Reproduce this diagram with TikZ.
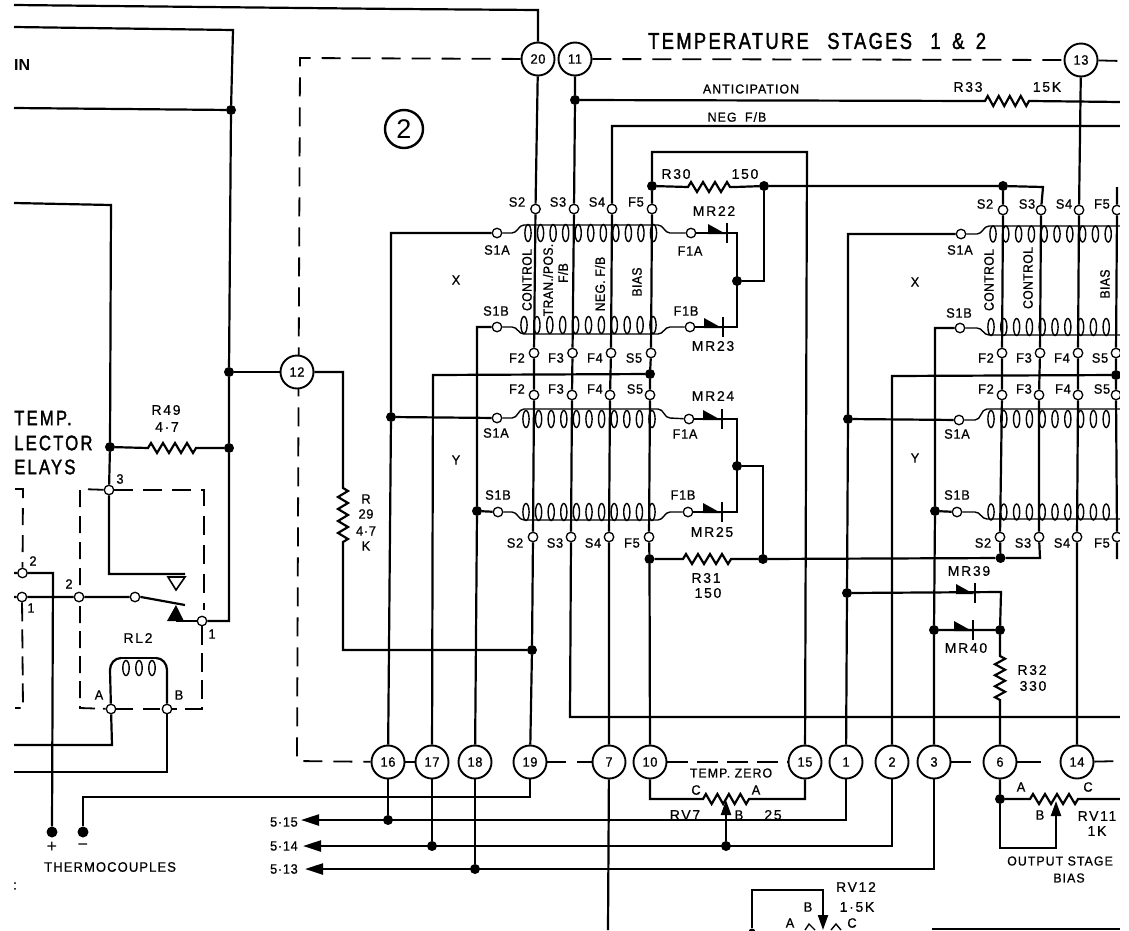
\documentclass[tikz,border=0pt]{standalone}
\usepackage{fontspec}
\setmainfont{Liberation Sans}
\newfontfamily\wf[LetterSpace=12,FakeBold=0.5]{Liberation Sans}
\newfontfamily\cf[LetterSpace=8,FakeStretch=0.95,FakeBold=0.8]{Liberation Sans}
\newfontfamily\lf[LetterSpace=5,FakeStretch=0.95,FakeBold=0.8]{Liberation Sans}
\newfontfamily\vf[LetterSpace=3,FakeStretch=0.9,FakeBold=1]{Liberation Sans}
\newfontfamily\tf[LetterSpace=10,FakeStretch=0.8,FakeBold=1.5]{Liberation Sans}
\usetikzlibrary{decorations.pathmorphing,arrows.meta}
\pgfdeclarelayer{bg}
\pgfsetlayers{bg,main}
\tikzset{
 wire/.style={line width=2.2pt,line join=miter},
 thin wire/.style={line width=1.4pt},
 framedash/.style={line width=1.8pt,dash pattern=on 19pt off 11pt},
 term/.style={circle,draw=black,fill=white,line width=1.3pt,minimum size=9.5pt,inner sep=0pt},
 junc/.style={circle,fill=black,minimum size=10pt,inner sep=0pt},
 numc/.style={circle,draw=black,fill=white,line width=1.9pt,minimum size=33pt,inner sep=0pt,font=\fontsize{13.5}{13}\lf},
 lbl/.style={inner sep=0pt,font=\fontsize{13.5}{13}\lf},
 wlbl/.style={inner sep=0pt,font=\fontsize{14}{14}\wf},
 cl/.style={inner sep=0pt,font=\fontsize{13}{13}\cf},
 vl/.style={inner sep=0pt,rotate=90,font=\fontsize{13.5}{13}\vf},
 zz/.style={decoration={zigzag,segment length=#1,amplitude=5pt}},
 tip/.style={-{Triangle[length=18pt,width=11pt]}},
 wtip/.style={-{Triangle[length=15pt,width=10pt]}}
}
\newcommand\ovy{0}
\newcommand\coil[9]{%
 \draw[thin wire] (#1) -- (#4-12,#3) to[out=0,in=180] (#4,#6) -- (#5,#6) to[out=0,in=180] (#5+12,#3) -- (#2);
 \foreach \k in {0,...,#9} \draw[thin wire] (#7+\k*#8,\ovy) ellipse [x radius=3.1,y radius=8.5];
}
\newcommand\diode[2]{% bar at x=#1, line y=#2
 \fill (#1-19,#2-9) -- (#1-1,#2+1) -- (#1-19,#2+1) -- cycle;
 \draw[line width=2.4pt] (#1,#2-10) -- (#1,#2+10);
}
\begin{document}
\begin{tikzpicture}[x=1pt,y=-1pt]
\useasboundingbox (0,0) rectangle (1129,930);
% numbered circles
\node[numc] (c20) at (538,59) {20};
\node[numc] (c11) at (575,59) {11};
\node[numc] (c13) at (1081,60) {13};
\node[numc] (c12) at (297,372) {12};
\node[numc] (c16) at (388,762) {16};
\node[numc] (c17) at (432,762) {17};
\node[numc] (c18) at (475,762) {18};
\node[numc] (c19) at (530,762) {19};
\node[numc] (c7) at (609,762) {7};
\node[numc] (c10) at (650,762) {10};
\node[numc] (c15) at (805,762) {15};
\node[numc] (c1) at (846,762) {1};
\node[numc] (c2) at (892,762) {2};
\node[numc] (c3) at (934,762) {3};
\node[numc] (c6) at (1000,762) {6};
\node[numc] (c14) at (1077,762) {14};
\node[circle,draw=black,line width=2.4pt,minimum size=38pt,inner sep=0pt,font=\fontsize{27}{27}\selectfont] (big2) at (404,129) {2};
% left-hand terminals
\node[term] (ta3) at (109,490) {};
\node[term] (tb2) at (22.5,573) {};
\node[term] (tb1) at (22,597) {};
\node[term] (tc2) at (79,597) {};
\node[term] (tcc) at (135,597) {};
\node[term] (td1) at (202,621) {};
\node[term] (tA) at (111,709) {};
\node[term] (tB) at (167,709) {};
\node[junc] (j1) at (231,110) {};
\node[junc] (j2) at (229,372) {};
\node[junc] (j3) at (110,447) {};
\node[junc] (j4) at (229,448) {};
\foreach \n/\x/\y in {s2a/535.5/209,s3a/574/209,s4a/612/209,f5a/652/209,
 f2a/534/353,f3a/572.5/353,f4a/611/353,s5a/651/353,
 f2b/534/395,f3b/572/395,f4b/610/395,s5b/650/395,
 s2b/533/537,s3b/571/537,s4b/609/537,f5b/649/537,
 s1ax/497/233,f1ax/691/233,s1bx/497/327,f1bx/690/327,
 s1ay/497/418,f1ay/689/419,s1by/498/512,f1by/688/512,
 s2c/1003/210,s3c/1041/210,s4c/1079/210,f5c/1117/210,
 f2c/1002/353,f3c/1040/353,f4c/1078/353,s5c/1116/353,
 f2d/1002/395,f3d/1039/395,f4d/1078/395,s5d/1116/395,
 s2d/1000/537,s3d/1039/537,s4d/1077/537,f5d/1117/537,
 s1ar/961/234,s1br/960/328,s1as/959/420,s1bs/957/512}
 {\node[term] (\n) at (\x,\y) {};}
\foreach \n/\x/\y in {j11/575/100,j30l/652/186,j30r/764/186,jr1/1003/186,jx/737/281,
 j16/391/417,j18/477/511,j10/650/374,jy/737/466,j31l/649.5/559,j31r/763/559,
 j19/532/650,jr2/848/419,jr3/847/593,jr5/935/511,jr6/1000.5/558,jr7/1116/375,jr8/934/630,jr9/1000/630,
 bj16/388/820,bj17/432/846,bj18/475/869,bj2/726/846,j6/1000/799}
 {\node[junc] (\n) at (\x,\y) {};}
\node[junc,minimum size=11pt] (dp) at (52,832) {};
\node[junc,minimum size=11pt] (dm) at (83,832) {};
\coordinate (rv12a) at (752,890);
\node[junc,minimum size=7pt] (rv12b) at (752,932) {};
\begin{pgfonlayer}{bg}
% dashed frames
\draw[framedash] (c20) -- (300,58) -- (297,761) -- (c16);
\draw[framedash] (c19) -- (c7);
\draw[framedash] (c11) -- (c13);
\draw[framedash] (c13) -- (1122,61);
\draw[framedash,dash pattern=on 21pt off 9pt] (c10) -- (c15);
\draw[framedash,dash pattern=on 20pt off 30pt] (c3) -- (c6);
\draw[framedash,dash pattern=on 24pt off 30pt] (c6) -- (c14);
\draw[framedash] (c14) -- (1122,761);
\draw[framedash,dash pattern=on 16pt off 8pt] (c16) -- (c17);
\draw[framedash,dash pattern=on 17pt off 9pt] (80,585) -- (80,489) -- (ta3);
\draw[framedash,dash pattern=on 19pt off 10pt] (ta3) -- (204,490) -- (204,610);
\draw[framedash,dash pattern=on 17pt off 8pt] (80,606) -- (80,708) -- (tA);
\draw[framedash,dash pattern=on 17pt off 10pt] (tA) -- (tB);
\draw[framedash,dash pattern=on 19pt off 8pt] (td1) -- (202,709) -- (tB);
\draw[framedash,dash pattern=on 17pt off 10pt] (15,489) -- (23,489) -- (tb2);
\draw[framedash,dash pattern=on 19pt off 8pt] (tb1) -- (23,708) -- (15,708);
% top left wires
\draw[wire] (14,5) -- (400,9) -- (538,10) -- (c20);
\draw[wire] (14,27) -- (233,30) -- (j1) -- (j2) -- (j4) -- (229,621) -- (td1);
\draw[wire] (14,108) -- (j1);
\draw[wire] (14,203) -- (111,205) -- (j3) -- (ta3) -- (109,574) -- (185,574);
\draw[wire] (j2) -- (c12);
\draw[wire] (j3) -- (148,448) decorate[zz=12pt]{-- (196,448)} -- (j4);
% relay contact
\draw[line width=1.6pt,fill=white] (168,577) -- (185,577) -- (176,590) -- cycle;
\draw[wire] (14,597) -- (tb1) -- (tc2) -- (tcc) -- (141,597) -- (185,605);
\fill (167,621) -- (184,621) -- (176,605) -- cycle;
\draw[wire] (176,621) -- (td1);
\draw[wire] (14,573) -- (tb2) -- (53,573) -- (dp);
\draw[wire] (tA) -- (110,670) to[out=90,in=180] (121,658);
\draw[thin wire] (121,658) -- (156,658);
\draw[wire] (156,658) to[out=0,in=90] (167,670) -- (tB);
\foreach \x in {126,139,152} \draw[thin wire] (\x,668) ellipse[x radius=3.2,y radius=7.5];
\draw[wire] (tA) -- (112,745) -- (14,745);
\draw[wire] (tB) -- (167,772) -- (14,772);
\draw[wire] (c19) -- (530,797) -- (83,797) -- (dm);
% R29
\draw[wire] (c12) -- (343,372) -- (343,488) decorate[zz=12pt]{-- (343,546)} -- (343,650) -- (j19);
% main verticals
\draw[wire] (c20) -- (s2a) -- (f2a) -- (f2b) -- (s2b) -- (j19) -- (c19);
\draw[wire] (c11) -- (j11) -- (s3a) -- (f3a) -- (f3b) -- (s3b) -- (570,717) -- (1121,717);
\draw[wire] (j11) -- (985,101) decorate[zz=11pt]{-- (1030,101)} -- (1121,102);
\draw[wire] (1121,126) -- (612,126) -- (s4a) -- (f4a) -- (f4b) -- (s4b) -- (c7) -- (608,930);
\draw[wire] (j30l) -- (652,152) -- (807,152) -- (c15);
\draw[wire] (j30l) -- (f5a) -- (s5a) -- (j10) -- (s5b) -- (f5b) -- (j31l) -- (c10);
\draw[wire] (j10) -- (433,375) -- (c17);
% R30 R31
\draw[wire] (j30l) -- (688,187) decorate[zz=12pt]{-- (735,187)} -- (j30r) -- (jr1) -- (1043,187) -- (s3c);
\draw[wire] (j30r) -- (764,281) -- (jx);
\draw[wire] (j31l) -- (683,559) decorate[zz=12pt]{-- (731,559)} -- (j31r) -- (jr6) -- (1040,558) -- (s3d);
\draw[wire] (j31r) -- (763,466) -- (jy);
% diodes X/Y
\draw[wire] (f1ax) -- (737,233) -- (737,327) -- (f1bx);
\draw[wire] (f1ay) -- (737,419) -- (737,512) -- (f1by);
\diode{727}{233}\diode{723}{327}\diode{722}{419}\diode{722}{512}
% X/Y left feeds
\draw[wire] (s1ax) -- (391,233) -- (j16) -- (c16);
\draw[wire] (j16) -- (s1ay);
\draw[wire] (s1bx) -- (477,327) -- (j18) -- (c18);
\draw[wire] (j18) -- (s1by);
% coils, left group
\renewcommand\ovy{233}\coil{s1ax}{f1ax}{233}{524}{658}{225}{528}{12.55}{10}
\renewcommand\ovy{325}\coil{s1bx}{f1bx}{327}{524}{658}{334}{524}{12.9}{10}
\renewcommand\ovy{419}\coil{s1ay}{f1ay}{418}{524}{658}{409}{526}{12.6}{10}
\renewcommand\ovy{512}\coil{s1by}{f1by}{512}{524}{658}{520}{526}{12.6}{10}
% right group
\draw[wire] (s1ar) -- (848,234) -- (jr2) -- (jr3) -- (c1);
\draw[wire] (jr2) -- (s1as);
\draw[wire] (s1br) -- (935,328) -- (jr5) -- (jr8) -- (c3);
\draw[wire] (jr5) -- (s1bs);
\draw[wire] (jr7) -- (892,376) -- (c2);
\draw[wire] (jr1) -- (s2c) -- (f2c) -- (f2d) -- (s2d) -- (jr6);
\draw[wire] (s3c) -- (f3c) -- (f3d) -- (s3d);
\draw[wire] (c13) -- (s4c) -- (f4c) -- (f4d) -- (s4d) -- (c14);
\draw[wire] (1117,187) -- (f5c) -- (s5c) -- (jr7) -- (s5d) -- (f5d) -- (1117,559);
\draw[thin wire] (s1ar) -- (977,234) to[out=0,in=180] (989,226) -- (1121,226);
\draw[thin wire] (s1br) -- (977,328) to[out=0,in=180] (989,335) -- (1121,335);
\draw[thin wire] (s1as) -- (975,420) to[out=0,in=180] (987,409) -- (1121,409);
\draw[thin wire] (s1bs) -- (975,512) to[out=0,in=180] (987,519) -- (1121,519);
\foreach \k in {0,...,9} {
 \draw[thin wire] (993+\k*12.8,234) ellipse[x radius=3.1,y radius=8];
 \draw[thin wire] (991+\k*12.8,327) ellipse[x radius=3.1,y radius=8.5];
 \draw[thin wire] (991+\k*12.8,419) ellipse[x radius=3.1,y radius=8.5];
 \draw[thin wire] (991+\k*12.8,512) ellipse[x radius=3.1,y radius=8];
}
% MR39 MR40 R32
\draw[wire] (jr3) -- (1001,592) -- (jr9);
\draw[wire] (jr8) -- (jr9) -- (1000,656) decorate[zz=11pt]{-- (1000,702)} -- (c6);
\diode{975}{593}\diode{973}{630}
% bottom buses
\draw[wire,tip] (c1) -- (846,820) -- (301,820);
\draw[wire,tip] (c2) -- (892,846) -- (303,846);
\draw[wire,tip] (c3) -- (934,869) -- (305,869);
\draw[wire] (c16) -- (bj16);
\draw[wire] (c17) -- (bj17);
\draw[wire] (c18) -- (bj18);
% RV7
\draw[wire] (c10) -- (650,799) -- (703,799) decorate[zz=11.5pt]{-- (750,799)} -- (805,799) -- (c15);
\draw[wire,wtip] (bj2) -- (726,800);
% RV11
\draw[wire] (c6) -- (j6) -- (1030,799) decorate[zz=12pt]{-- (1078,799)} -- (1121,799);
\draw[wire] (j6) -- (1000,848) -- (1056,848) -- (1056,830);
\draw[wire,wtip] (1056,840) -- (1056,801);
% RV12
\draw[wire] (rv12b) -- (rv12a) -- (823,890) -- (823,905);
\draw[wire,wtip] (823,900) -- (823,930);
\draw[line width=1.4pt] (805,930) -- (809,924) -- (815,930);
\draw[line width=1.4pt] (831,930) -- (836,924) -- (841,930);
\draw[line width=1.8pt] (932,929) -- (1121,929);
\end{pgfonlayer}
% texts
\node[inner sep=0pt,font=\fontsize{23}{23}\tf,anchor=west] (title) at (648,41) {TEMPERATURE\hspace{11pt} STAGES\hspace{11pt} 1\hspace{4pt} \&\hspace{4pt} 2};
\node[inner sep=0pt,font=\fontsize{16}{16}\selectfont\bfseries,anchor=west] (in) at (14,65) {IN};
\foreach \t/\y in {TEMP./418,LECTOR/443,ELAYS/467}
 \node[inner sep=0pt,font=\fontsize{21}{21}\tf,anchor=west] at (14,\y) {\t};
\node[cl] at (751,89) {ANTICIPATION};
\node[cl] at (737,117) {NEG\hspace{4pt} F/B};
\node[wlbl] at (968,87) {R33};
\node[wlbl] at (1047,87) {15K};
\foreach \x/\y/\t in {517/202/S2,558/202/S3,597/202/S4,636/202/F5,
 517/358/F2,556/358/F3,595/358/F4,634/358/S5,517/389/F2,556/389/F3,595/389/F4,635/389/S5,
 515/543/S2,555/543/S3,593/543/S4,632/543/F5,
 497/250/S1A,690/251/F1A,496/311/S1B,686/311/F1B,496/433/S1A,685/434/F1A,498/495/S1B,683/495/F1B,
 985/204/S2,1027/204/S3,1064/204/S4,1102/204/F5,986/358/F2,1024/358/F3,1062/358/F4,1100/358/S5,
 986/389/F2,1024/389/F3,1063/389/F4,1102/389/S5,983/543/S2,1023/543/S3,1062/543/S4,1102/543/F5,
 960/250/S1A,959/313/S1B,957/434/S1A,957/495/S1B,
 456/280/X,456/460/Y,915/282/X,915/458/Y,
 99/695/A,179/695/B,120/479/3,33/561/2,31/608/1,69/584/2,212/634/1,
 696/790/C,756/790/A,739/815/B,1021/787/A,1088/787/C,1040/815/B,808/907/B,790/923/A,852/923/C,
 366/499/R,366/514/29,366/531/4·7,366/546/K}
 {\node[lbl] at (\x,\y) {\t};}
\foreach \x/\y/\t in {714/211/MR22,713/346/MR23,713/396/MR24,712/532/MR25,969/571/MR39,966/648/MR40,
 676/174/R30,745/174/150,706/578/R31,708/593/150,1032/670/R32,1033/686/330,166/410/R49,167/427/4·7,138/638/RL2,
 685/815/RV7,773/815/25,1097/816/RV11,1097/831/1K,856/887/RV12,857/907/1·5K}
 {\node[wlbl] at (\x,\y) {\t};}
\node[vl] at (527,280) {CONTROL};
\node[vl] at (548,280) {TRAN./POS.};
\node[vl] at (563,273) {F/B};
\node[vl] at (600,284) {NEG. F/B};
\node[vl] at (637,282) {BIAS};
\node[vl] at (989,280) {CONTROL};
\node[vl] at (1028,278) {CONTROL};
\node[vl] at (1105,284) {BIAS};
\node[cl] at (731,773) {TEMP. ZERO};
\node[cl] at (1060,861) {OUTPUT STAGE};
\node[cl] at (1069,878) {BIAS};
\node[cl,font=\fontsize{13.7}{13}\cf,anchor=west] at (44,867) {THERMOCOUPLES};
\node[lbl,font=\fontsize{18}{18}\selectfont] at (52,847) {+};
\node[lbl,font=\fontsize{18}{18}\selectfont] at (83,847) {−};
\node[lbl] at (15,886) {:};
\node[lbl,anchor=east] at (298,822) {5·15};
\node[lbl,anchor=east] at (298,846) {5·14};
\node[lbl,anchor=east] at (298,869) {5·13};
\fill[white] (1119.5,0) rectangle (1129,930);
\end{tikzpicture}
\end{document}
